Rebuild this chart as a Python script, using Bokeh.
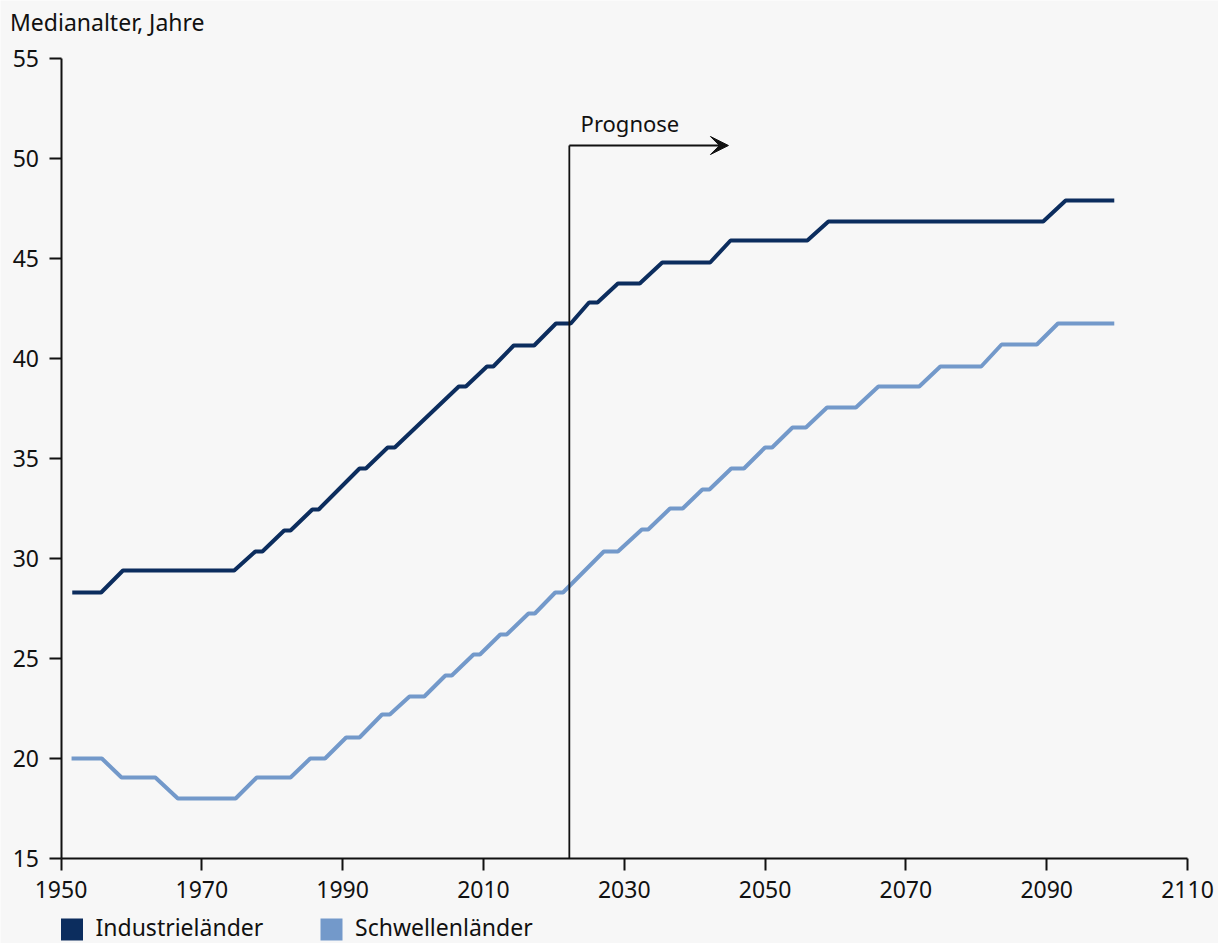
from bokeh.plotting import figure
from bokeh.models import Range1d, Label, Arrow, VeeHead, FixedTicker
from bokeh.embed import file_html
from bokeh.resources import INLINE

# ---- data -------------------------------------------------------------
jahre_industrie = [1951.6, 1955.7, 1958.8, 1974.6, 1977.6, 1978.6, 1981.7, 1982.6,
                   1985.7, 1986.6, 1992.4, 1993.3, 1996.4, 1997.4, 2006.5, 2007.5,
                   2010.5, 2011.4, 2014.3, 2017.2, 2020.3, 2022.4, 2025.0, 2026.2,
                   2029.1, 2032.2, 2035.4, 2042.2, 2045.1, 2056.0, 2059.0, 2089.5,
                   2092.7, 2099.6]
alter_industrie = [28.3, 28.3, 29.4, 29.4, 30.35, 30.35, 31.4, 31.4,
                   32.45, 32.45, 34.5, 34.5, 35.55, 35.55, 38.6, 38.6,
                   39.6, 39.6, 40.65, 40.65, 41.75, 41.75, 42.8, 42.8,
                   43.75, 43.75, 44.8, 44.8, 45.9, 45.9, 46.85, 46.85,
                   47.9, 47.9]

jahre_schwellen = [1951.5, 1955.8, 1958.6, 1963.4, 1966.6, 1974.8, 1977.8, 1982.6,
                   1985.4, 1987.5, 1990.5, 1992.4, 1995.6, 1996.7, 1999.5, 2001.6,
                   2004.6, 2005.5, 2008.6, 2009.5, 2012.4, 2013.3, 2016.4, 2017.3,
                   2020.2, 2021.3, 2027.1, 2029.1, 2032.5, 2033.4, 2036.5, 2038.3,
                   2041.1, 2042.1, 2045.2, 2047.0, 2050.0, 2051.0, 2053.9, 2055.8,
                   2058.8, 2062.9, 2066.1, 2071.9, 2074.9, 2080.7, 2083.6, 2088.6,
                   2091.6, 2099.6]
alter_schwellen = [20.0, 20.0, 19.05, 19.05, 18.0, 18.0, 19.05, 19.05,
                   20.0, 20.0, 21.05, 21.05, 22.2, 22.2, 23.1, 23.1,
                   24.15, 24.15, 25.2, 25.2, 26.2, 26.2, 27.25, 27.25,
                   28.3, 28.3, 30.35, 30.35, 31.45, 31.45, 32.5, 32.5,
                   33.45, 33.45, 34.5, 34.5, 35.55, 35.55, 36.55, 36.55,
                   37.55, 37.55, 38.6, 38.6, 39.6, 39.6, 40.7, 40.7,
                   41.75, 41.75]

x_ticks = [1950, 1970, 1990, 2010, 2030, 2050, 2070, 2090, 2110]
y_ticks = [15, 20, 25, 30, 35, 40, 45, 50, 55]

serien = ["Industrieländer", "Schwellenländer"]
prognose_start = 2022.2
prognose_pfeil_ende = 2044.8
prognose_hoehe = 50.65

# ---- style ------------------------------------------------------------
BG = "#f7f7f7"
INK = "#111111"
DUNKEL = "#0c2d5e"
HELL = "#7399ca"
FONT = "Noto Sans"

W, H = 1218, 943
X_MIN, X_MAX = 1950, 2110
Y_MIN, Y_MAX = 15, 55
# pixel box of the axes inside the canvas
AX_LEFT, AX_RIGHT, AX_TOP, AX_BOTTOM = 60.5, 1187.0, 58.0, 858.0

px_per_year = (AX_RIGHT - AX_LEFT) / (X_MAX - X_MIN)
px_per_unit = (AX_BOTTOM - AX_TOP) / (Y_MAX - Y_MIN)
x_view0 = X_MIN - AX_LEFT / px_per_year
y_view1 = Y_MAX + AX_TOP / px_per_unit


def dx(px):
    """canvas pixel column -> data x"""
    return x_view0 + px / px_per_year


def dy(py):
    """canvas pixel row -> data y"""
    return y_view1 - py / px_per_unit


# the frame spans the whole canvas; axes sit at fixed data positions
p = figure(width=W, height=H, output_backend="svg", toolbar_location=None,
           x_range=Range1d(dx(0), dx(W)), y_range=Range1d(dy(H), dy(0)),
           min_border=0, min_border_left=0, min_border_right=0,
           min_border_top=0, min_border_bottom=0)
p.background_fill_color = BG
p.border_fill_color = BG
p.outline_line_color = None
p.grid.visible = False

xa = p.xaxis[0]
ya = p.yaxis[0]
xa.fixed_location = Y_MIN
ya.fixed_location = X_MIN
xa.bounds = (X_MIN, X_MAX)
ya.bounds = (Y_MIN, Y_MAX)
for ax in (xa, ya):
    ax.axis_line_width = 2
    ax.axis_line_color = INK
    ax.major_tick_line_width = 2
    ax.major_tick_line_color = INK
    ax.major_tick_out = 12
    ax.major_tick_in = 0
    ax.minor_tick_line_color = None
    ax.major_label_text_font = FONT
    ax.major_label_text_font_size = "23px"
    ax.major_label_text_color = INK
xa.ticker = FixedTicker(ticks=x_ticks)
ya.ticker = FixedTicker(ticks=y_ticks)
xa.formatter.use_scientific = False
ya.major_label_standoff = 10
xa.major_label_standoff = 10

# ---- series -----------------------------------------------------------
p.line(jahre_industrie, alter_industrie, line_color=DUNKEL, line_width=4)
p.line(jahre_schwellen, alter_schwellen, line_color=HELL, line_width=4)

# ---- forecast marker --------------------------------------------------
p.line([prognose_start, prognose_start], [Y_MIN, prognose_hoehe],
       line_color=INK, line_width=1.8)
p.add_layout(Arrow(x_start=prognose_start, y_start=prognose_hoehe,
                   x_end=prognose_pfeil_ende, y_end=prognose_hoehe,
                   line_color=INK, line_width=1.8,
                   end=VeeHead(size=18, fill_color=INK, line_color=INK,
                               line_width=1)))
p.add_layout(Label(x=2023.8, y=51.8, text="Prognose", text_font=FONT,
                   text_font_size="22px", text_color=INK,
                   text_align="left", text_baseline="alphabetic"))

# ---- caption of the value axis ----------------------------------------
p.add_layout(Label(x=dx(9.5), y=dy(21.7), text="Medianalter, Jahre",
                   text_font=FONT, text_font_size="23px", text_color=INK,
                   text_align="left", text_baseline="alphabetic"))

# ---- legend -----------------------------------------------------------
swatch_left_px = [60.5, 320.0]
swatch_size_px = 22.0
swatch_top_px = 918.0
label_left_px = [95.0, 354.5]
label_row_px = 926.0
legend_colors = [DUNKEL, HELL]

p.quad(left=[dx(v) for v in swatch_left_px],
       right=[dx(v + swatch_size_px) for v in swatch_left_px],
       top=[dy(swatch_top_px)] * 2,
       bottom=[dy(swatch_top_px + swatch_size_px)] * 2,
       fill_color=legend_colors, line_color=None)
for name, lx in zip(serien, label_left_px):
    p.add_layout(Label(x=dx(lx), y=dy(label_row_px), text=name, text_font=FONT,
                       text_font_size="23px", text_color=INK,
                       text_align="left", text_baseline="alphabetic"))

open("out.html", "w").write(file_html(p, INLINE))
